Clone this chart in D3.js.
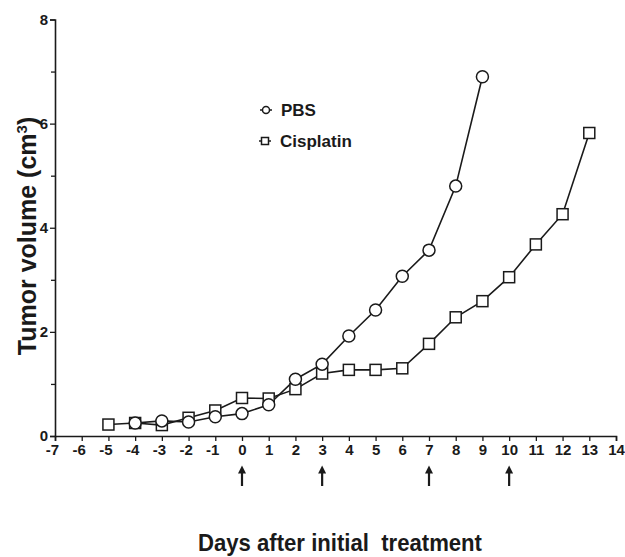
<!DOCTYPE html>
<html>
<head>
<meta charset="utf-8">
<script src="https://cdn.jsdelivr.net/npm/d3@7"></script>
<style>
  body { margin: 0; background: #fff; }
  text { font-family: "Liberation Sans", Arial, sans-serif; font-weight: bold; fill: #1a1a1a; }
</style>
</head>
<body>
<div id="chart"></div>
<script>
// data
const pbsDays = [-4, -3, -2, -1, 0, 1, 2, 3, 4, 5, 6, 7, 8, 9];
const pbsVol = [0.25, 0.29, 0.27, 0.37, 0.43, 0.6, 1.09, 1.38, 1.92, 2.42, 3.07, 3.57, 4.8, 6.9];
const cisDays = [-5, -4, -3, -2, -1, 0, 1, 2, 3, 4, 5, 6, 7, 8, 9, 10, 11, 12, 13];
const cisVol = [0.22, 0.25, 0.21, 0.35, 0.49, 0.73, 0.72, 0.9, 1.2, 1.27, 1.27, 1.3, 1.77, 2.28, 2.59, 3.05, 3.68, 4.26, 5.82];
const xTicks = d3.range(-7, 15);
const yTicks = [0, 2, 4, 6, 8];
const yMinor = [1, 3, 5, 7];
const treatmentDays = [0, 3, 7, 10];

const width = 625, height = 557;
const ink = "#1a1a1a";

const svg = d3.select("#chart").append("svg")
  .attr("width", width)
  .attr("height", height);

const x = d3.scaleLinear().domain([-7, 14]).range([55, 616]);
const y = d3.scaleLinear().domain([0, 8]).range([436, 19.5]);

// axes (plain hyphen for negatives, like the original)
const xAxis = svg.append("g")
  .attr("transform", `translate(0,${y(0)})`)
  .call(d3.axisBottom(x).tickValues(xTicks).tickFormat(d => String(d)).tickSizeOuter(0).tickSize(5).tickPadding(3));
const yAxis = svg.append("g")
  .attr("transform", `translate(${x(-7)},0)`)
  .call(d3.axisLeft(y).tickValues(yTicks).tickFormat(d => String(d)).tickSizeOuter(0).tickSize(5).tickPadding(2));
svg.append("g")
  .attr("transform", `translate(${x(-7)},0)`)
  .call(d3.axisLeft(y).tickValues(yMinor).tickFormat("").tickSizeOuter(0).tickSize(4))
  .select(".domain").remove();

svg.selectAll(".domain").attr("stroke", ink).attr("stroke-width", 1.6);
svg.selectAll(".tick line").attr("stroke", ink).attr("stroke-width", 1.3);
svg.selectAll(".tick text").style("font-size", "15px").attr("fill", ink);
xAxis.selectAll(".tick text").attr("dx", d => d < 0 ? "-0.2em" : 0);

// lines
const line = d3.line().x(d => x(d[0])).y(d => y(d[1]));
const pbs = pbsDays.map((d, i) => [d, pbsVol[i]]);
const cis = cisDays.map((d, i) => [d, cisVol[i]]);

svg.append("path").datum(cis).attr("d", line)
  .attr("fill", "none").attr("stroke", ink).attr("stroke-width", 1.6);
svg.append("path").datum(pbs).attr("d", line)
  .attr("fill", "none").attr("stroke", ink).attr("stroke-width", 1.6);

const sq = 11;
svg.selectAll(".sq").data(cis).enter().append("rect")
  .attr("x", d => x(d[0]) - sq / 2)
  .attr("y", d => y(d[1]) - sq / 2)
  .attr("width", sq).attr("height", sq)
  .attr("fill", "#fff").attr("stroke", ink).attr("stroke-width", 1.5);

svg.selectAll(".circ").data(pbs).enter().append("circle")
  .attr("cx", d => x(d[0]))
  .attr("cy", d => y(d[1]))
  .attr("r", 6)
  .attr("fill", "#fff").attr("stroke", ink).attr("stroke-width", 1.5);

// legend
const legend = svg.append("g").attr("transform", "translate(266,110)");
legend.append("line").attr("x1", -6).attr("x2", 6).attr("stroke", ink).attr("stroke-width", 1.5);
legend.append("circle").attr("r", 3.5).attr("fill", "#fff").attr("stroke", ink).attr("stroke-width", 1.5);
legend.append("text").attr("x", 15).attr("y", 6).style("font-size", "17px").text("PBS");
const legend2 = legend.append("g").attr("transform", "translate(-1,31)");
legend2.append("line").attr("x1", -6).attr("x2", 6).attr("stroke", ink).attr("stroke-width", 1.5);
legend2.append("rect").attr("x", -3.5).attr("y", -3.5).attr("width", 7).attr("height", 7)
  .attr("fill", "#fff").attr("stroke", ink).attr("stroke-width", 1.5);
legend2.append("text").attr("x", 15).attr("y", 6).style("font-size", "17px").text("Cisplatin");

// treatment arrows
svg.append("defs").append("marker")
  .attr("id", "head")
  .attr("viewBox", "0 0 10 10")
  .attr("refX", 2).attr("refY", 5)
  .attr("markerWidth", 11).attr("markerHeight", 8)
  .attr("markerUnits", "userSpaceOnUse")
  .attr("orient", "auto")
  .append("path").attr("d", "M0,0 L10,5 L0,10 Z").attr("fill", ink);

svg.selectAll(".arrow").data(treatmentDays).enter().append("line")
  .attr("x1", d => x(d)).attr("x2", d => x(d))
  .attr("y1", 486).attr("y2", 472)
  .attr("stroke", ink).attr("stroke-width", 2.2)
  .attr("marker-end", "url(#head)");

// axis titles
svg.append("text")
  .attr("x", 340).attr("y", 551)
  .attr("text-anchor", "middle")
  .attr("textLength", 284)
  .attr("lengthAdjust", "spacingAndGlyphs")
  .style("font-size", "24px")
  .text("Days after initial\u00a0 treatment");

const yt = svg.append("text")
  .attr("transform", "translate(36,236) rotate(-90)")
  .attr("text-anchor", "middle")
  .style("font-size", "25px");
yt.append("tspan").text("Tumor volume (cm");
yt.append("tspan").attr("dy", -9).style("font-size", "15px").text("3");
yt.append("tspan").attr("dy", 9).text(")");
</script>
</body>
</html>
